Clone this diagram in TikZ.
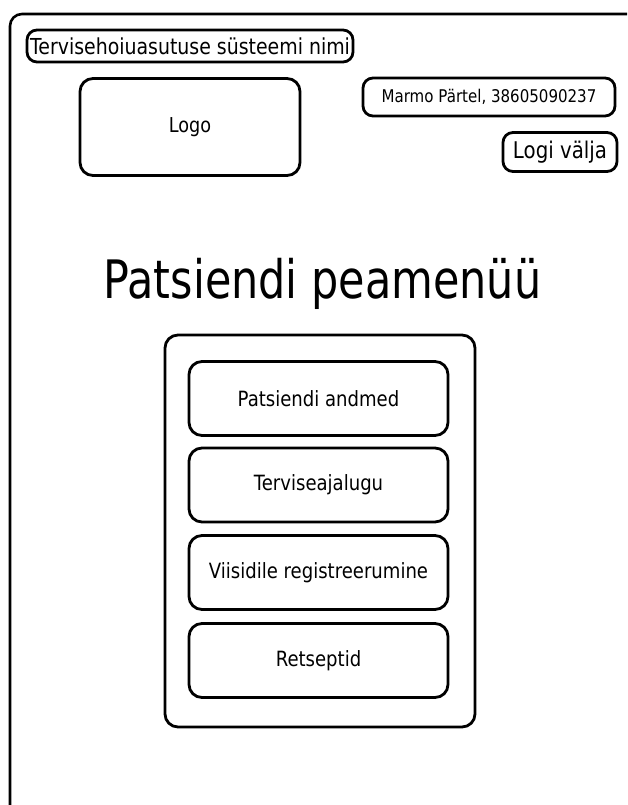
\documentclass[tikz,border=0pt]{standalone}
\usepackage{fontspec}
\setmainfont{DejaVu Sans}
\newfontfamily\uifont[FakeStretch=0.86]{DejaVu Sans}
\newfontfamily\headfont[FakeStretch=0.81]{DejaVu Sans}
\begin{document}
\begin{tikzpicture}[x=1pt,y=-1pt,
  frame/.style={draw=black, line width=2.6pt, rounded corners=12pt},
  panel/.style={draw=black, line width=2.8pt, rounded corners=13pt, inner sep=0pt, font=\uifont},
  tag/.style={draw=black, line width=2.8pt, rounded corners=10pt, inner sep=0pt, font=\uifont},
  menubtn/.style={panel, minimum width=259pt, minimum height=74pt, font=\uifont\fontsize{21}{24}\selectfont}
]
\useasboundingbox (0,0) rectangle (627,805);
\fill[white] (0,0) rectangle (627,805);
\begin{scope}
  \clip (0,0) rectangle (627,805);
  \draw[frame] (10,14) rectangle (660,830);
\end{scope}

% header elements
\node[tag, minimum width=326pt, minimum height=32pt, font=\uifont\fontsize{22}{25}\selectfont]
  (sysname) at (190,46) {Tervisehoiuasutuse süsteemi nimi};
\node[panel, minimum width=220pt, minimum height=97pt, font=\uifont\fontsize{20.5}{24}\selectfont]
  (logo) at (190,127) {Logo};
\node[tag, minimum width=252pt, minimum height=38pt, font=\uifont\fontsize{17.5}{20}\selectfont]
  (user) at (489,97) {Marmo Pärtel, 38605090237};
\node[tag, minimum width=114pt, minimum height=39pt, font=\uifont\fontsize{23}{26}\selectfont]
  (logout) at (560,152) {Logi välja};

% page title
\node[font=\headfont\fontsize{53}{60}\selectfont] (title) at (322.5,284) {Patsiendi peamenüü};

% main menu
\node[panel, minimum width=310pt, minimum height=392pt] (menu) at (320,531) {};
\node[menubtn] (b1) at (318.5,398.5) {Patsiendi andmed};
\node[menubtn] (b2) at (318.5,485) {Terviseajalugu};
\node[menubtn] (b3) at (318.5,572.5) {Viisidile registreerumine};
\node[menubtn] (b4) at (318.5,660.5) {Retseptid};
\end{tikzpicture}
\end{document}
